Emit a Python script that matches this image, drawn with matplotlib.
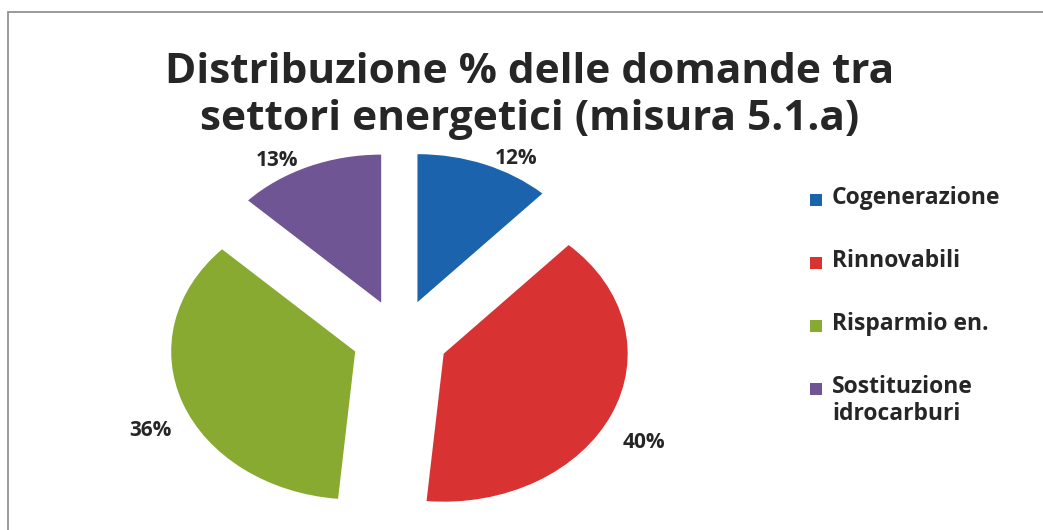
import matplotlib
matplotlib.use("Agg")
import matplotlib.pyplot as plt
from matplotlib.patches import Rectangle
import numpy as np

# valori della misura 5.1.a
settori = ["Cogenerazione", "Rinnovabili", "Risparmio en.", "Sostituzione\nidrocarburi"]
quote = [12, 40, 36, 13]
colori = ["#1b64ad", "#d93232", "#88aa30", "#6f5593"]

titolo = "Distribuzione % delle domande tra\nsettori energetici (misura 5.1.a)"

plt.rcParams['font.family'] = ['Open Sans', 'DejaVu Sans']
testo = "#262626"

W, H = 1043, 530
fig = plt.figure(figsize=(W / 100, H / 100), dpi=100)

# cornice del grafico
fig.patches.append(Rectangle((8 / W, -0.05), 1.2, (H - 12) / H + 0.05,
                             transform=fig.transFigure, fill=False,
                             edgecolor="#8a8a8a", linewidth=1.2))

# torta "ellittica": assi più larghi che alti, aspetto libero
cx, cy, rx, ry = 400, 338, 184, 148
xl, yl = 1.6, 1.3
ax = fig.add_axes([(cx - xl * rx) / W, (H - cy - yl * ry) / H,
                   2 * xl * rx / W, 2 * yl * ry / H])
wedges, _ = ax.pie(quote, colors=colori, startangle=90, counterclock=False,
                   explode=[0.26] * len(quote), radius=1,
                   wedgeprops=dict(linewidth=0))
ax.set_aspect('auto')
ax.set_xlim(-xl, xl)
ax.set_ylim(-yl, yl)
ax.axis('off')

# etichette percentuali appena fuori dal bordo esterno di ogni spicchio
for w, v in zip(wedges, quote):
    ang = np.deg2rad((w.theta1 + w.theta2) / 2)
    x0, y0 = w.center
    c, s = np.cos(ang), np.sin(ang)
    ax.annotate(f"{v}%", (x0 + c, y0 + s),
                xytext=(32 * np.sign(c), 26 * s - 18), textcoords='offset pixels',
                ha='center', va='center', fontsize=15, fontweight='bold',
                color=testo, annotation_clip=False)

fig.text(530 / W, (H - 96) / H, titolo, ha='center', va='center',
         fontsize=30.5, fontweight='bold', color=testo, linespacing=1.22)

# legenda a destra
for i, (nome, col) in enumerate(zip(settori, colori)):
    yc = 200 + 63 * i
    fig.patches.append(Rectangle((810 / W, (H - yc - 6) / H), 12 / W, 12 / H,
                                 transform=fig.transFigure, facecolor=col,
                                 edgecolor='none'))
    fig.text(832 / W, (H - yc + 14) / H, nome, ha='left', va='top',
             fontsize=16.5, fontweight='bold', color=testo, linespacing=1.15)

fig.savefig("out.png", dpi=100, facecolor="white")
